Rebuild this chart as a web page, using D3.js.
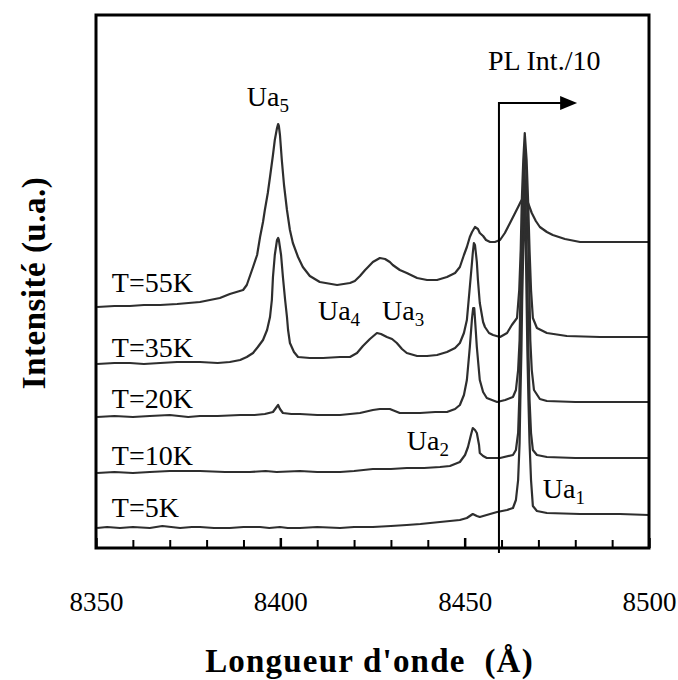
<!DOCTYPE html>
<html><head><meta charset="utf-8">
<script src="https://cdn.jsdelivr.net/npm/d3@7"></script>
<style>
body{margin:0;background:#fff}
svg{display:block}
svg text{font-family:"Liberation Serif","Times New Roman",serif !important;fill:#000}
</style></head>
<body><svg id="chart" width="678" height="680"></svg>
<script>
// ---- data (wavelength Å, stacked intensity a.u.) ----
const seriesNames = ["T=5K","T=10K","T=20K","T=35K","T=55K"];
const t5K = [[8350.3,10],[8353,10.5],[8356.5,10],[8360,10.5],[8364.6,10],[8368,11],[8372.8,10],[8376,10.5],[8378.2,10.5],[8382,10],[8386.3,10],[8390,10.5],[8394.5,10.5],[8397,10],[8399.9,10.5],[8402,10],[8405.3,10],[8410,10.5],[8416.2,10],[8420,10.5],[8425.1,10.5],[8430,11],[8434.3,11.5],[8438,12],[8443.3,13],[8446,13.5],[8448.7,14],[8450.6,15],[8452.2,17],[8453.3,16],[8454.1,15.5],[8456.9,17],[8458.8,18],[8461.5,19],[8463.1,20],[8463.9,24],[8464.5,34],[8464.9,52.5],[8465.1,74],[8465.4,99],[8465.6,124],[8465.9,149],[8466.2,181.5],[8466.6,149],[8466.8,124],[8467.0,99],[8467.3,74],[8467.6,52.5],[8468.0,34],[8468.5,21],[8469.6,18.5],[8472.3,17.5],[8481.3,17],[8492.1,17],[8500,16.5]];
const t10K = [[8350.3,37.5],[8355,38],[8360,37.5],[8364.6,38],[8370,38.5],[8378.2,38.5],[8385,38],[8391.7,38],[8396,38.5],[8399,38],[8405.3,38.5],[8410,38],[8416.2,38],[8420,38.5],[8425.1,39.5],[8430,39.5],[8434.3,40],[8439,40],[8443.3,40.5],[8446,41],[8448.7,43],[8450.1,46.5],[8450.9,50.5],[8451.7,56.5],[8452.2,60],[8452.8,59],[8453.3,57.5],[8453.9,51.5],[8454.1,47.5],[8455,46],[8456,45],[8459.6,45],[8463.1,46.5],[8463.9,49],[8464.5,57.5],[8464.8,74],[8465.1,99],[8465.3,124],[8465.6,149],[8465.9,174],[8466.2,191.5],[8466.5,174],[8466.8,149],[8467.1,124],[8467.3,99],[8467.6,74],[8468.0,57.5],[8468.5,49],[8469.6,46.5],[8472.3,45.5],[8480,45],[8486.7,45],[8493,45],[8500,45]];
const t20K = [[8350.3,65.5],[8355,66],[8360,65.5],[8364.6,66],[8370,66.5],[8375,65.5],[8378.2,66],[8383,66],[8389.1,66.5],[8393,66.5],[8395.8,67],[8398.0,68],[8398.8,70],[8399.4,71.5],[8399.9,69.5],[8400.7,67.5],[8403,67],[8405.3,67],[8410,66.5],[8416.2,66.5],[8421.6,67.5],[8425.1,69],[8427,69.5],[8429.7,69.5],[8432.4,67.5],[8437.9,67.5],[8442,68],[8445.2,68],[8447.4,69.5],[8448.7,71.5],[8449.8,76.5],[8450.6,84],[8451.4,100.5],[8452.0,115],[8452.3,120],[8452.6,120],[8453.0,109],[8453.3,100.5],[8454.1,84],[8455,78],[8456,75],[8458.8,73],[8461,74],[8463.1,75.5],[8463.9,79],[8464.5,89],[8464.9,104],[8465.1,124],[8465.4,149],[8465.8,174],[8466.0,189],[8466.3,199],[8466.7,189],[8466.9,174],[8467.3,149],[8467.6,124],[8467.8,104],[8468.2,89],[8468.8,79],[8470.4,74.5],[8472.3,73.5],[8480,73],[8486.7,73],[8493,73],[8500,73]];
const t35K = [[8350.3,92],[8355,92.5],[8359.2,92.5],[8363,92],[8367.4,92.5],[8372,93],[8378.2,93],[8383,92.5],[8386.3,93],[8389.1,94],[8390.9,95.5],[8392.6,97.5],[8393.9,100.5],[8395.3,104],[8396.4,109],[8397.2,115.5],[8397.7,124],[8398.0,135.5],[8398.5,146.5],[8399.1,154],[8399.4,155],[8399.6,154],[8400.2,146.5],[8400.7,135.5],[8401.3,124],[8401.8,115.5],[8402.1,109],[8402.6,102.5],[8403.7,98],[8404.8,95.5],[8408,95],[8411.6,95],[8416.2,95.5],[8418.9,95.5],[8420.8,97.5],[8422.4,101],[8424.3,104.5],[8426.2,107.5],[8427.3,107],[8428.9,105.5],[8430.3,104.5],[8431.6,102.5],[8433,99.5],[8434.3,97.5],[8437.1,96],[8439.8,96],[8442.5,96.5],[8445.2,98],[8447.4,100],[8448.7,102.5],[8449.8,107.5],[8450.6,114],[8451.4,130.5],[8452.0,143],[8452.2,147.5],[8452.5,152.5],[8452.8,151.5],[8453.1,146.5],[8453.3,143],[8453.6,134],[8454.1,122.5],[8455,113],[8455.5,110.5],[8456.6,107.5],[8457.7,106.5],[8459.6,105.5],[8461.5,107.5],[8462.8,111.5],[8464.2,115],[8464.8,129],[8465.2,149],[8465.5,174],[8465.9,194],[8466.3,207.5],[8466.8,194],[8467.2,174],[8467.6,149],[8468.0,129],[8468.5,115],[8469.6,110],[8472.3,107.5],[8477.7,106],[8486.7,105.5],[8493,105.5],[8500,105.5]];
const t55K = [[8350.3,120.5],[8355,121],[8359.2,121],[8363,121.5],[8367.4,121.5],[8372,122],[8378.2,123],[8383.6,125],[8386.3,127],[8389.9,129],[8390.9,131.5],[8392.6,140.5],[8393.7,146.5],[8394.5,155.5],[8395.3,163],[8395.8,169],[8396.6,177.5],[8397.2,185.5],[8398.0,196.5],[8398.5,204],[8399.1,210],[8399.4,212],[8399.6,211],[8399.9,206.5],[8400.4,194],[8401.0,181.5],[8401.8,169],[8402.6,159],[8403.4,152.5],[8404.8,145.5],[8406.1,140.5],[8408.0,136],[8410.7,133],[8415.4,131.5],[8418.9,132.5],[8420.2,133.5],[8421.6,136],[8423.0,139],[8423.8,140.5],[8425.1,143],[8427.0,145],[8428.4,144.5],[8429.7,143],[8430.5,141.5],[8432.4,139],[8434.3,137.5],[8437.1,135],[8439.8,134],[8442.5,134],[8445.2,135.5],[8447.4,137.5],[8448.7,140.5],[8449.8,146.5],[8450.6,150.5],[8451.4,155.5],[8452.0,158],[8452.8,160.5],[8453.6,159.5],[8454.1,157.5],[8455.0,156],[8455.8,154],[8456.9,153],[8458.2,153],[8459.6,154],[8460.9,157.5],[8462.3,162.5],[8463.4,166.5],[8464.5,170.5],[8465.3,173.5],[8465.8,175],[8466.3,175],[8466.9,174],[8467.4,171.5],[8468.2,167.5],[8469.3,163.5],[8470.4,160.5],[8472.3,158],[8473.9,156.5],[8477.2,154.5],[8481.3,153],[8486.7,153],[8493,153],[8500,153]];
const seriesValues = [t5K, t10K, t20K, t35K, t55K];
const majorTicks = [8350, 8400, 8450, 8500];
const minorTicks = [8360,8370,8380,8390,8410,8420,8430,8440,8460,8470,8480,8490];
const peakNames = ["Ua1","Ua2","Ua3","Ua4","Ua5"];

// ---- layout ----
const FONT = '"Liberation Serif","Times New Roman",serif';
const svg = d3.select("#chart");
const M = {left:96, right:649, top:15, bottom:548};
const x = d3.scaleLinear().domain([8350,8500]).range([M.left, M.right]);
const y = d3.scaleLinear().domain([0,266.5]).range([M.bottom, M.top]);

svg.append("defs").append("clipPath").attr("id","clip")
  .append("rect").attr("x",M.left).attr("y",M.top)
  .attr("width",M.right-M.left).attr("height",M.bottom-M.top);

const line = d3.line().x(d=>x(d[0])).y(d=>y(d[1]));
svg.append("g").attr("clip-path","url(#clip)")
  .selectAll("path").data(seriesValues).join("path")
  .attr("d", line).attr("fill","none")
  .attr("stroke","#2e2e2e").attr("stroke-width",2.2).attr("stroke-linejoin","round");

// PL Int./10 marker (vertical line + arrow)
const plX = 8459.3, plTop = 222.5, plEnd = 8480.5;
svg.append("path")
  .attr("d", `M${x(plX)},${y(-2.5)}V${y(plTop)}H${x(plEnd)-15}`)
  .attr("fill","none").attr("stroke","#000").attr("stroke-width",2);
svg.append("path")
  .attr("d", `M${x(plEnd)-17},${y(plTop)-7}L${x(plEnd)},${y(plTop)}L${x(plEnd)-17},${y(plTop)+7}Z`)
  .attr("fill","#000");

// axes (inward ticks)
const gMinor = svg.append("g").attr("transform",`translate(0,${M.bottom})`)
  .call(d3.axisBottom(x).tickValues(minorTicks).tickSize(-8).tickFormat(""));
gMinor.select(".domain").remove();
gMinor.selectAll("line").attr("stroke","#000").attr("stroke-width",2);

const gMajor = svg.append("g").attr("transform",`translate(0,${M.bottom})`)
  .attr("font-family",FONT)
  .call(d3.axisBottom(x).tickValues(majorTicks).tickSize(-10).tickPadding(44).tickFormat(d3.format("d")));
gMajor.attr("font-family",FONT);
gMajor.select(".domain").remove();
gMajor.selectAll("line").attr("stroke","#000").attr("stroke-width",2.5);
gMajor.selectAll("text").attr("font-size",27).style("font-family",FONT).attr("fill","#000");

// frame
svg.append("rect").attr("x",M.left).attr("y",M.top)
  .attr("width",M.right-M.left).attr("height",M.bottom-M.top)
  .attr("fill","none").attr("stroke","#000").attr("stroke-width",3);

// temperature labels
const tempLabelPos = [15.5, 41.5, 70, 95.5, 128];
svg.append("g").selectAll("text").data(seriesNames).join("text")
  .attr("x", x(8354.3)).attr("y",(d,i)=>y(tempLabelPos[i]))
  .style("font-family",FONT).attr("font-size",28).text(d=>d);

// peak labels with subscripts
const peakPos = [[8471.2,25],[8434.3,49],[8427.6,114],[8410.2,114],[8390.9,221]];
peakNames.forEach((n,i)=>{
  const t = svg.append("text").attr("x",x(peakPos[i][0])).attr("y",y(peakPos[i][1]))
    .style("font-family",FONT).attr("font-size",28);
  t.append("tspan").text(n.slice(0,2));
  t.append("tspan").attr("font-size",19).attr("dy",6).text(n.slice(2));
});

svg.append("text").attr("x",x(8456.3)).attr("y",y(239)).style("font-family",FONT)
  .attr("font-size",28).text("PL Int./10");

// axis titles
svg.append("text").attr("x",(M.left+M.right)/2 - 3).attr("y",672)
  .attr("text-anchor","middle").attr("font-size",33).attr("font-weight","bold")
  .attr("letter-spacing",1.2).attr("xml:space","preserve").style("white-space","pre")
  .style("font-family",FONT).text("Longueur d'onde  (Å)");
svg.append("text").attr("transform","translate(45,283) rotate(-90)")
  .attr("text-anchor","middle").attr("font-size",33).attr("font-weight","bold")
  .attr("letter-spacing",0.5).style("font-family",FONT)
  .text("Intensité (u.a.)");
</script></body></html>
